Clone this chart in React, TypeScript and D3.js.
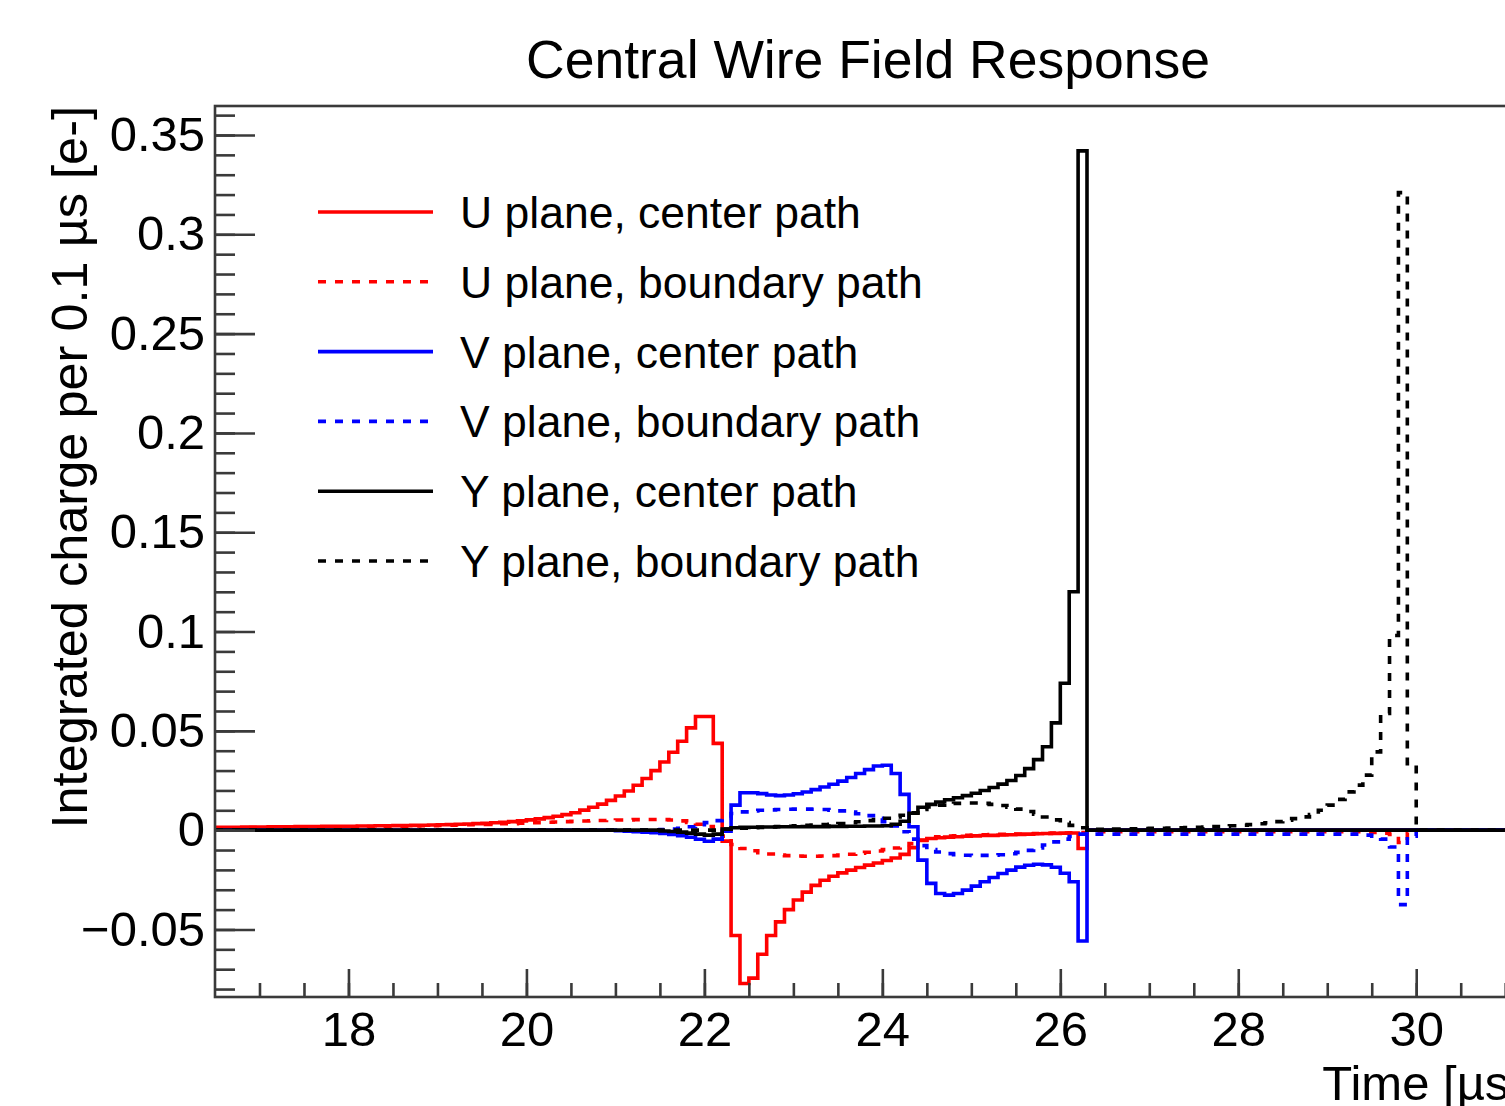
import { useEffect, useRef } from 'react';
import * as d3 from 'd3';

// bins are 0.1 us wide, first bin starts at 16.5 us, one row per microsecond
const binStart = 16.5;
const binWidth = 0.1;

const uCenter = [
  0.0015, 0.0015, 0.0015, 0.0016, 0.0016,
  0.0016, 0.0017, 0.0017, 0.0017, 0.0018, 0.0018, 0.0018, 0.0019, 0.0019, 0.002,
  0.002, 0.0021, 0.0021, 0.0022, 0.0022, 0.0023, 0.0023, 0.0024, 0.0025, 0.0026,
  0.0027, 0.0028, 0.003, 0.0031, 0.0033, 0.0035, 0.0037, 0.004, 0.0043, 0.0047,
  0.0052, 0.0057, 0.0063, 0.007, 0.0078, 0.0088, 0.0101, 0.0115, 0.0131, 0.015,
  0.0172, 0.0197, 0.0226, 0.026, 0.03, 0.0343, 0.0392, 0.0448, 0.0515, 0.0572,
  0.0572, 0.0437, -0.0055, -0.053, -0.0772, -0.0745, -0.0625, -0.053, -0.0462, -0.04,
  -0.0352, -0.0312, -0.0278, -0.0252, -0.0232, -0.0215, -0.0201, -0.0188, -0.0176, -0.0165,
  -0.0153, -0.014, -0.0122, -0.0088, -0.005, -0.0042, -0.0038, -0.0035, -0.0033, -0.0031,
  -0.0029, -0.0027, -0.0026, -0.0024, -0.0023, -0.0021, -0.002, -0.0018, -0.0017, -0.0016,
  -0.0015, -0.0014, -0.0092, 0, 0, 0, 0, 0, 0, 0,
  0, 0, 0, 0, 0, 0, 0, 0, 0, 0,
  0, 0, 0, 0, 0, 0, 0, 0, 0, 0,
  0, 0, 0, 0, 0, 0, 0, 0, 0, 0,
];

const uBoundary = [
  0.0012, 0.0012, 0.0012, 0.0013, 0.0013,
  0.0013, 0.0014, 0.0014, 0.0014, 0.0015, 0.0015, 0.0015, 0.0016, 0.0016, 0.0017,
  0.0017, 0.0018, 0.0018, 0.0019, 0.0019, 0.002, 0.002, 0.0021, 0.0022, 0.0023,
  0.0024, 0.0025, 0.0026, 0.0027, 0.0028, 0.0029, 0.003, 0.0032, 0.0033, 0.0035,
  0.0037, 0.0038, 0.004, 0.0041, 0.0043, 0.0044, 0.0046, 0.0047, 0.0049, 0.005,
  0.0051, 0.0052, 0.0053, 0.0054, 0.0054, 0.0053, 0.0051, 0.0047, 0.0039, 0.003,
  0.0018, 0.0005, -0.003, -0.0072, -0.0092, -0.0104, -0.0113, -0.012, -0.0125, -0.0128,
  -0.013, -0.0131, -0.0131, -0.013, -0.0128, -0.0125, -0.0121, -0.0116, -0.0111, -0.0105,
  -0.0098, -0.009, -0.0081, -0.0068, -0.0052, -0.004, -0.0034, -0.003, -0.0028, -0.0026,
  -0.0024, -0.0023, -0.0022, -0.0021, -0.002, -0.0019, -0.0018, -0.0017, -0.0016, -0.0015,
  -0.0014, -0.0013, -0.0012, -0.0008, -0.0008, -0.0008, -0.0008, -0.0008, -0.0008, -0.0008,
  -0.0008, -0.0008, -0.0008, -0.0008, -0.0008, -0.0008, -0.0008, -0.0008, -0.0008, -0.0008,
  -0.0008, -0.0008, -0.0008, -0.0008, -0.0008, -0.0008, -0.0008, -0.0008, -0.0008, -0.0008,
  -0.0008, -0.0008, -0.0008, -0.0008, -0.001, -0.0012, -0.0015, -0.0022, -0.0062, -0.0012,
];

const vCenter = [
  0, 0, 0, 0, 0,
  0, 0, 0, 0, 0, 0, 0, 0, 0, 0,
  0, 0, 0, 0, 0, 0, 0, 0, 0, 0,
  0, 0, 0, 0, 0, 0, 0, 0, 0, 0,
  0, 0, 0, 0, 0, 0, 0, 0, 0, 0,
  -0.0003, -0.0005, -0.0008, -0.001, -0.0013, -0.0017, -0.0022, -0.0028, -0.0036, -0.0046,
  -0.0056, -0.0045, -0.0005, 0.0126, 0.0188, 0.0188, 0.0184, 0.0177, 0.0174, 0.0177,
  0.0183, 0.0192, 0.0204, 0.0217, 0.0231, 0.0247, 0.0265, 0.0285, 0.0305, 0.0323,
  0.0327, 0.0285, 0.018, 0.0017, -0.0151, -0.0268, -0.0319, -0.0327, -0.0319, -0.0302,
  -0.0282, -0.026, -0.0238, -0.0218, -0.0201, -0.0186, -0.0177, -0.0172, -0.0175, -0.0187,
  -0.0217, -0.026, -0.0558, 0, 0, 0, 0, 0, 0, 0,
  0, 0, 0, 0, 0, 0, 0, 0, 0, 0,
  0, 0, 0, 0, 0, 0, 0, 0, 0, 0,
  0, 0, 0, 0, 0, 0, 0, 0, 0, 0,
];

const vBoundary = [
  0, 0, 0, 0, 0,
  0, 0, 0, 0, 0, 0, 0, 0, 0, 0,
  0, 0, 0, 0, 0, 0, 0, 0, 0, 0,
  0, 0, 0, 0, 0, 0, 0, 0, 0, 0,
  0, 0, 0, 0, 0, 0, 0, 0, 0, 0,
  0, 0, 0, 0, 0, 0.0003, 0.0006, 0.001, 0.0017, 0.0027,
  0.0038, 0.0048, 0.0062, 0.0084, 0.0092, 0.0097, 0.01, 0.0102, 0.0104, 0.0105,
  0.0106, 0.0106, 0.0105, 0.0104, 0.0101, 0.0097, 0.0091, 0.0083, 0.0073, 0.006,
  0.0043, 0.0021, -0.0008, -0.0045, -0.0078, -0.0098, -0.011, -0.0118, -0.0123, -0.0126,
  -0.0127, -0.0127, -0.0126, -0.0124, -0.0119, -0.0112, -0.0102, -0.009, -0.0075, -0.0059,
  -0.0045, -0.0032, -0.002, -0.002, -0.002, -0.002, -0.002, -0.002, -0.002, -0.002,
  -0.002, -0.002, -0.002, -0.002, -0.002, -0.002, -0.002, -0.002, -0.002, -0.002,
  -0.002, -0.002, -0.002, -0.002, -0.002, -0.002, -0.002, -0.002, -0.002, -0.002,
  -0.002, -0.002, -0.002, -0.002, -0.0025, -0.003, -0.0045, -0.0085, -0.0375, -0.003,
];

const yCenter = [
  0, 0, 0, 0, 0,
  0, 0, 0, 0, 0, 0, 0, 0, 0, 0,
  0, 0, 0, 0, 0, 0, 0, 0, 0, 0,
  0, 0, 0, 0, 0, 0, 0, 0, 0, 0,
  0, 0, 0, 0, 0, 0, 0, 0, 0, 0,
  0, 0, 0, 0, 0, -0.0004, -0.0007, -0.001, -0.0015, -0.002,
  -0.0025, -0.002, 0.0005, 0.0012, 0.0014, 0.0015, 0.0016, 0.0016, 0.0017, 0.0017,
  0.0017, 0.0018, 0.0018, 0.0018, 0.0019, 0.0019, 0.002, 0.002, 0.0021, 0.0021,
  0.0022, 0.003, 0.0045, 0.0085, 0.0115, 0.013, 0.0142, 0.0153, 0.0163, 0.0174,
  0.0186, 0.02, 0.0215, 0.0232, 0.025, 0.0275, 0.031, 0.0355, 0.042, 0.054,
  0.074, 0.12, 0.342, 0, 0, 0, 0, 0, 0, 0,
  0, 0, 0, 0, 0, 0, 0, 0, 0, 0,
  0, 0, 0, 0, 0, 0, 0, 0, 0, 0,
  0, 0, 0, 0, 0, 0, 0, 0, 0, 0,
];

const yBoundary = [
  0, 0, 0, 0, 0,
  0, 0, 0, 0, 0, 0, 0, 0, 0, 0,
  0, 0, 0, 0, 0, 0, 0, 0, 0, 0,
  0, 0, 0, 0, 0, 0, 0, 0, 0, 0,
  0, 0, 0, 0, 0, 0, 0, 0, 0, 0,
  0, 0, 0, 0, 0, 0, 0, 0, 0, 0,
  0, 0, 0.0005, 0.0008, 0.001, 0.0012, 0.0014, 0.0016, 0.0018, 0.002,
  0.0022, 0.0024, 0.0026, 0.0028, 0.003, 0.0033, 0.0037, 0.0042, 0.0048, 0.0054,
  0.006, 0.0067, 0.0075, 0.0088, 0.0104, 0.0117, 0.0126, 0.0132, 0.0135, 0.0137,
  0.0137, 0.0135, 0.013, 0.0124, 0.0116, 0.0106, 0.0094, 0.008, 0.0066, 0.0052,
  0.0038, 0.0024, 0.0012, 0.0003, 0.0004, 0.0004, 0.0005, 0.0006, 0.0007, 0.0008,
  0.0009, 0.001, 0.0011, 0.0012, 0.0013, 0.0015, 0.0016, 0.0018, 0.002, 0.0022,
  0.0025, 0.0028, 0.0032, 0.0037, 0.0043, 0.005, 0.0058, 0.0067, 0.0078, 0.01,
  0.0126, 0.0155, 0.0193, 0.0227, 0.0277, 0.0394, 0.0587, 0.098, 0.321, 0.0335,
];

const seriesNames = [
  'U plane, center path',
  'U plane, boundary path',
  'V plane, center path',
  'V plane, boundary path',
  'Y plane, center path',
  'Y plane, boundary path',
];

const xMajorTicks = [18, 20, 22, 24, 26, 28, 30];
const yMajorTicks = [-0.05, 0, 0.05, 0.1, 0.15, 0.2, 0.25, 0.3, 0.35];

const title = 'Central Wire Field Response';
const xTitle = 'Time [\u00b5s]';
const yTitle = 'Integrated charge per 0.1 \u00b5s [e-]';

const WIDTH = 1505;
const HEIGHT = 1106;
const FONT = "'Liberation Sans', Arial, Helvetica, sans-serif";
const LINE_W = 3.6;

export default function App() {
  const ref = useRef<SVGSVGElement>(null);

  useEffect(() => {
    const svg = d3.select(ref.current);
    svg.selectAll('*').remove();

    const frame = { left: 215, right: 1523, top: 106, bottom: 997 };
    const x = d3.scaleLinear().domain([16.5, 31.2]).range([frame.left, frame.right]);
    const y = d3.scaleLinear().domain([-0.084, 0.3646]).range([frame.bottom, frame.top]);
    const nBins = Math.round((31.2 - binStart) / binWidth);

    svg.append('rect').attr('width', WIDTH).attr('height', HEIGHT).attr('fill', '#fff');

    svg.append('defs').append('clipPath').attr('id', 'plot-clip')
      .append('rect')
      .attr('x', frame.left).attr('y', frame.top)
      .attr('width', frame.right - frame.left).attr('height', frame.bottom - frame.top);

    // title
    svg.append('text')
      .attr('x', 868).attr('y', 78)
      .attr('text-anchor', 'middle')
      .style('font-family', FONT).style('font-size', '53.5px')
      .text(title);

    // histograms
    const series = [
      { values: uCenter, color: '#ff0000', dashed: false },
      { values: uBoundary, color: '#ff0000', dashed: true },
      { values: vCenter, color: '#0000ff', dashed: false },
      { values: vBoundary, color: '#0000ff', dashed: true },
      { values: yCenter, color: '#000000', dashed: false },
      { values: yBoundary, color: '#000000', dashed: true },
    ];

    const step = d3.line<[number, number]>()
      .x(d => x(d[0]))
      .y(d => y(d[1]))
      .curve(d3.curveStepAfter);

    const plot = svg.append('g').attr('clip-path', 'url(#plot-clip)');
    series.forEach(s => {
      const pts: [number, number][] = [];
      for (let i = 0; i < nBins; i++) {
        pts.push([binStart + i * binWidth, i < s.values.length ? s.values[i] : 0]);
      }
      pts.push([binStart + nBins * binWidth, 0]);
      plot.append('path')
        .attr('d', step(pts))
        .attr('fill', 'none')
        .attr('stroke', s.color)
        .attr('stroke-width', LINE_W)
        .attr('stroke-dasharray', s.dashed ? '8 9' : null);
    });

    // frame
    svg.append('rect')
      .attr('x', frame.left).attr('y', frame.top)
      .attr('width', frame.right - frame.left).attr('height', frame.bottom - frame.top)
      .attr('fill', 'none').attr('stroke', '#3a3a3a').attr('stroke-width', 2.6);

    // x axis (ticks pointing inside, ROOT style)
    const xMinor = d3.range(17, 31.01, 0.5);
    const xMinorAxis = svg.append('g')
      .attr('transform', `translate(0,${frame.bottom})`)
      .call(d3.axisBottom(x).tickValues(xMinor).tickSize(-14).tickSizeOuter(0).tickFormat(() => ''));
    const xAxis = svg.append('g')
      .attr('transform', `translate(0,${frame.bottom})`)
      .call(d3.axisBottom(x).tickValues(xMajorTicks).tickSize(-28).tickSizeOuter(0).tickPadding(14)
        .tickFormat(d => String(d)));

    // y axis
    const yMinor = d3.range(-8, 37).map(i => i / 100);
    const yMinorAxis = svg.append('g')
      .attr('transform', `translate(${frame.left},0)`)
      .call(d3.axisLeft(y).tickValues(yMinor).tickSize(-20).tickSizeOuter(0).tickFormat(() => ''));
    const yAxis = svg.append('g')
      .attr('transform', `translate(${frame.left},0)`)
      .call(d3.axisLeft(y).tickValues(yMajorTicks).tickSize(-40).tickSizeOuter(0).tickPadding(10)
        .tickFormat(d => (d === 0 ? '0' : d3.format('~g')(d as number))));

    [xMinorAxis, xAxis, yMinorAxis, yAxis].forEach(g => {
      g.select('.domain').remove();
      g.selectAll('.tick line').attr('stroke', '#3a3a3a').attr('stroke-width', 2.6);
      g.selectAll('.tick text')
        .attr('fill', '#000')
        .style('font-family', FONT).style('font-size', '49px');
    });

    // axis titles
    svg.append('text')
      .attr('x', frame.right).attr('y', 1100)
      .attr('text-anchor', 'end')
      .style('font-family', FONT).style('font-size', '49px')
      .text(xTitle);

    svg.append('text')
      .attr('transform', `translate(87,${frame.top}) rotate(-90)`)
      .attr('text-anchor', 'end')
      .style('font-family', FONT).style('font-size', '50.5px')
      .text(yTitle);

    // legend
    const ly = d3.scaleLinear().domain([0, seriesNames.length - 1]).range([212, 561]);
    const legend = svg.append('g');
    seriesNames.forEach((name, i) => {
      const s = series[i];
      legend.append('line')
        .attr('x1', 318).attr('x2', 433)
        .attr('y1', ly(i)).attr('y2', ly(i))
        .attr('stroke', s.color).attr('stroke-width', LINE_W)
        .attr('stroke-dasharray', s.dashed ? '8 9' : null);
      legend.append('text')
        .attr('x', 460).attr('y', ly(i) + 16)
        .style('font-family', FONT).style('font-size', '44.5px')
        .text(name);
    });
  }, []);

  return (
    <svg
      ref={ref}
      width={WIDTH}
      height={HEIGHT}
      style={{ position: 'absolute', left: 0, top: 0, display: 'block' }}
    />
  );
}
